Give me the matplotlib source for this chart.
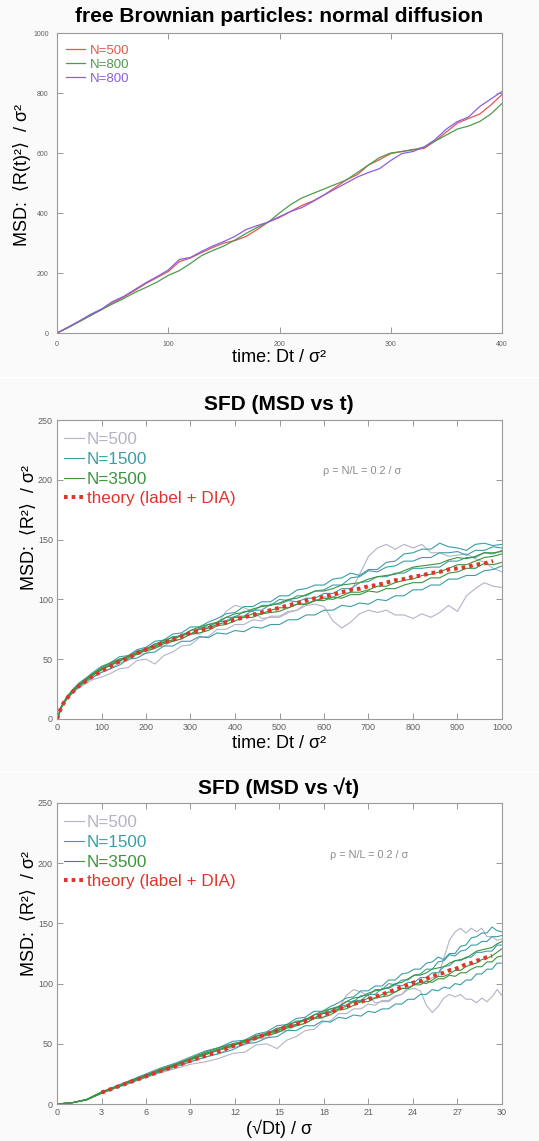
import matplotlib
matplotlib.use("Agg")
import matplotlib.pyplot as plt
import numpy as np

FONT = ['Liberation Sans', 'DejaVu Sans']
plt.rcParams['font.family'] = FONT

# ---------------- panel 1: free Brownian particles ----------------
T1 = list(range(0, 401, 10))
msd_500 = [0, 18, 38, 58, 78, 100, 120, 142, 165, 185, 205, 238, 250, 268, 285, 300,
           308, 322, 345, 370, 385, 405, 425, 440, 460, 485, 510, 528, 560, 578, 598,
           605, 612, 615, 640, 670, 700, 715, 730, 760, 795]
msd_800a = [0, 18, 38, 58, 78, 97, 115, 135, 152, 170, 192, 208, 232, 258, 275, 290,
            310, 332, 352, 370, 400, 428, 450, 465, 480, 495, 510, 535, 560, 585, 600,
            605, 610, 620, 640, 660, 680, 690, 705, 730, 765]
msd_800b = [0, 20, 40, 62, 80, 105, 122, 145, 168, 188, 210, 245, 252, 272, 290, 305,
            322, 345, 358, 370, 388, 405, 418, 438, 460, 480, 500, 520, 535, 548, 575,
            598, 605, 620, 645, 680, 705, 720, 755, 780, 805]

# ---------------- panels 2 and 3: single-file diffusion ----------------
T2 = [0, 1, 4, 9, 16, 25, 36, 49, 64, 81, 100] + list(range(120, 1001, 20))

theory = [0, 1, 4, 9.5, 14, 18.5, 23, 27.5, 31.5, 36, 40,
          44, 48, 51, 55, 58, 61, 64, 66, 69, 72, 74, 76, 79, 81, 83, 85, 87, 89, 91,
          93, 95, 97, 99, 101, 102, 104, 106, 108, 109, 111, 112, 114, 116, 117, 119,
          120, 122, 123, 125, 126, 127, 129, 130, 132, 133]

n500 = [
    [0, 1, 3.5, 9, 14, 18, 22.5, 27, 31, 35, 39,
     42, 47, 49, 54, 55, 60, 61, 65, 67, 71, 71, 76, 79, 90, 95, 93, 90, 84, 85, 85,
     89, 91, 97, 99, 102, 102, 105, 106, 121, 136, 143, 146, 142, 146, 143, 146, 139,
     139, 136, 137, 138, 134, 131, 126, 123],
    [0, 1, 3.4, 8.8, 13.5, 17.5, 22, 26, 29.5, 33, 35,
     38, 42, 43, 49, 50, 46, 53, 56, 61, 62, 68, 69, 75, 75, 79, 79, 83, 82, 86, 86,
     90, 91, 95, 96, 94, 82, 76, 81, 88, 91, 89, 91, 87, 87, 84, 88, 85, 89, 95, 90,
     103, 109, 114, 111, 110],
]
n1500 = [
    [0, 1, 3.8, 10, 15, 20, 25, 30, 34, 39, 44,
     47, 52, 53, 58, 60, 65, 66, 71, 72, 77, 77, 81, 84, 88, 89, 94, 94, 98, 98, 103,
     103, 108, 109, 112, 112, 117, 118, 122, 120, 125, 125, 131, 132, 138, 139, 142,
     142, 147, 144, 143, 141, 146, 147, 145, 146],
    [0, 1, 3.7, 9.7, 14.5, 19.5, 24, 28.5, 33, 37.5, 42,
     46, 50, 52, 57, 58, 63, 64, 69, 69, 74, 75, 79, 80, 85, 85, 90, 90, 95, 95, 100,
     99, 103, 103, 107, 108, 112, 112, 118, 119, 124, 123, 127, 128, 132, 132, 135,
     135, 139, 139, 140, 137, 141, 141, 144, 143],
    [0, 1, 3.4, 9, 13.5, 18, 22.5, 27, 31, 35, 39,
     42, 45, 50, 51, 55, 56, 61, 61, 65, 65, 69, 68, 72, 71, 74, 73, 77, 76, 79, 79,
     83, 83, 87, 87, 91, 91, 95, 94, 97, 96, 100, 99, 103, 103, 108, 108, 112, 112,
     117, 117, 120, 120, 124, 125, 128],
    [0, 1, 3.6, 9.5, 14.5, 19, 23.5, 28.5, 33, 37, 41,
     45, 48, 53, 54, 59, 60, 65, 66, 71, 71, 76, 77, 81, 82, 86, 86, 91, 91, 96, 96,
     99, 98, 101, 101, 105, 105, 109, 109, 114, 115, 119, 119, 122, 122, 126, 126,
     127, 127, 132, 132, 135, 135, 139, 138, 141],
]
n3500 = [
    [0, 1, 3.8, 10, 14.5, 19.5, 24, 29, 33, 38, 43,
     47, 50, 52, 56, 59, 62, 66, 68, 70, 74, 77, 79, 81, 85, 88, 89, 92, 94, 95, 97,
     100, 101, 104, 107, 107, 109, 112, 113, 114, 117, 119, 120, 121, 124, 127, 128,
     129, 130, 133, 135, 134, 136, 139, 139, 140],
    [0, 1, 3.6, 9.5, 14, 19, 23.5, 28, 32.5, 37.5, 42,
     45, 49, 51, 55, 57, 59, 63, 65, 67, 71, 72, 74, 78, 79, 82, 85, 85, 88, 89, 90,
     93, 96, 96, 99, 101, 100, 103, 106, 106, 108, 111, 111, 114, 116, 117, 120, 121,
     123, 126, 129, 129, 132, 135, 136, 138],
    [0, 1, 3.5, 9, 14, 18.5, 23, 27.5, 32, 36.5, 41,
     45, 48, 53, 54, 58, 61, 64, 66, 70, 71, 75, 76, 79, 81, 85, 85, 88, 88, 91, 93,
     93, 96, 96, 99, 99, 102, 101, 104, 104, 107, 106, 109, 109, 112, 114, 114, 118,
     118, 122, 123, 126, 126, 130, 129, 131],
]

C_GREY = '#b3b3c6'
C_TEAL = '#3b9ea6'
C_GREEN = '#3b963b'
C_RED = '#e0342c'

fig = plt.figure(figsize=(5.39, 11.41), dpi=100, facecolor='#fafafa')
H = 1141.0
W = 539.0


def add_axes(top_px, bottom_px, left_px=57, right_px=502):
    ax = fig.add_axes([left_px / W, 1 - bottom_px / H,
                       (right_px - left_px) / W, (bottom_px - top_px) / H])
    ax.set_facecolor('white')
    for sp in ax.spines.values():
        sp.set_color('#9a9a9a')
        sp.set_linewidth(0.8)
    ax.tick_params(direction='in', top=True, right=True, length=4, width=0.6,
                   color='#888888', labelcolor='#606060')
    return ax


def fig_text(x_px, y_px, s, **kw):
    fig.text(x_px / W, 1 - y_px / H, s, ha='center', va='center', **kw)


# ---- panel 1 ----
ax1 = add_axes(33, 333)
ax1.plot(T1, msd_500, color='#e0584f', lw=0.9, label='N=500')
ax1.plot(T1, msd_800a, color='#4f9a4f', lw=0.9, label='N=800')
ax1.plot(T1, msd_800b, color='#8a5ee0', lw=0.9, label='N=800')
ax1.set_xlim(0, 400)
ax1.set_ylim(0, 1000)
ax1.set_xticks(range(0, 401, 100))
ax1.set_yticks(range(0, 1001, 200))
ax1.tick_params(labelsize=5, pad=6)
ax1.legend(loc='upper left', bbox_to_anchor=(0.02, 0.962), frameon=False,
           labelcolor='linecolor', fontsize=9.5, handlelength=1.45,
           handletextpad=0.4, labelspacing=0.15, borderaxespad=0, borderpad=0)
fig_text(279, 17, 'free Brownian particles: normal diffusion', fontsize=15,
         fontweight='bold')
fig_text(279, 358, 'time: Dt / σ²', fontsize=13)
fig_text(22, 175, 'MSD:  ⟨R(t)²⟩  / σ²', fontsize=13, rotation=90, family=FONT)

# ---- panels 2 and 3 ----
t2 = np.array(T2, dtype=float)
th = np.array(theory, dtype=float)


def sfd_panel(ax, x, th_mask):
    for i, ys in enumerate(n500):
        ax.plot(x, ys, color=C_GREY, lw=0.8, label='N=500' if i == 0 else None)
    for i, ys in enumerate(n1500):
        ax.plot(x, ys, color=C_TEAL, lw=0.8, label='N=1500' if i == 0 else None)
    for i, ys in enumerate(n3500):
        ax.plot(x, ys, color=C_GREEN, lw=0.8, label='N=3500' if i == 0 else None)
    ax.plot(x[th_mask], th[th_mask], color=C_RED, lw=2.9, dashes=(0.9, 1.0),
            label='theory (label + DIA)')
    ax.set_ylim(0, 250)
    ax.set_yticks(range(0, 251, 50))
    ax.tick_params(labelsize=6.5, pad=3)
    ax.legend(loc='upper left', bbox_to_anchor=(0.015, 0.96), frameon=False,
              labelcolor='linecolor', fontsize=12.3, handlelength=1.2,
              handletextpad=0.15, labelspacing=0.28, borderaxespad=0, borderpad=0)


ax2 = add_axes(420, 719)
sfd_panel(ax2, t2, t2 <= 980)
ax2.set_xlim(0, 1000)
ax2.set_xticks(range(0, 1001, 100))
ax2.text(597, 207, 'ρ = N/L = 0.2 / σ', fontsize=7.8, color='#8a8a8a',
         ha='left', va='center')
fig_text(279, 405, 'SFD (MSD vs t)', fontsize=15, fontweight='bold')
fig_text(279, 743, 'time: Dt / σ²', fontsize=13)
fig_text(29, 528, 'MSD:  ⟨R²⟩  / σ²', fontsize=13, rotation=90, family=FONT)

ax3 = add_axes(803, 1104)
s2 = np.sqrt(t2)
sfd_panel(ax3, s2, (t2 >= 9) & (t2 <= 860))
ax3.set_xlim(0, 30)
ax3.set_xticks(range(0, 31, 3))
ax3.text(18.4, 207, 'ρ = N/L = 0.2 / σ', fontsize=7.8, color='#8a8a8a',
         ha='left', va='center')
fig_text(279, 788, 'SFD (MSD vs √t)', fontsize=15, fontweight='bold')
fig_text(279, 1129, '(√Dt) / σ', fontsize=13)
fig_text(29, 913, 'MSD:  ⟨R²⟩  / σ²', fontsize=13, rotation=90, family=FONT)

# thin light separators between the stacked panels
for y in (377, 771):
    fig.add_artist(plt.Line2D([0, 1], [1 - y / H, 1 - y / H], color='white',
                              lw=1.0, transform=fig.transFigure))

fig.savefig('out.png', dpi=100, facecolor=fig.get_facecolor())
